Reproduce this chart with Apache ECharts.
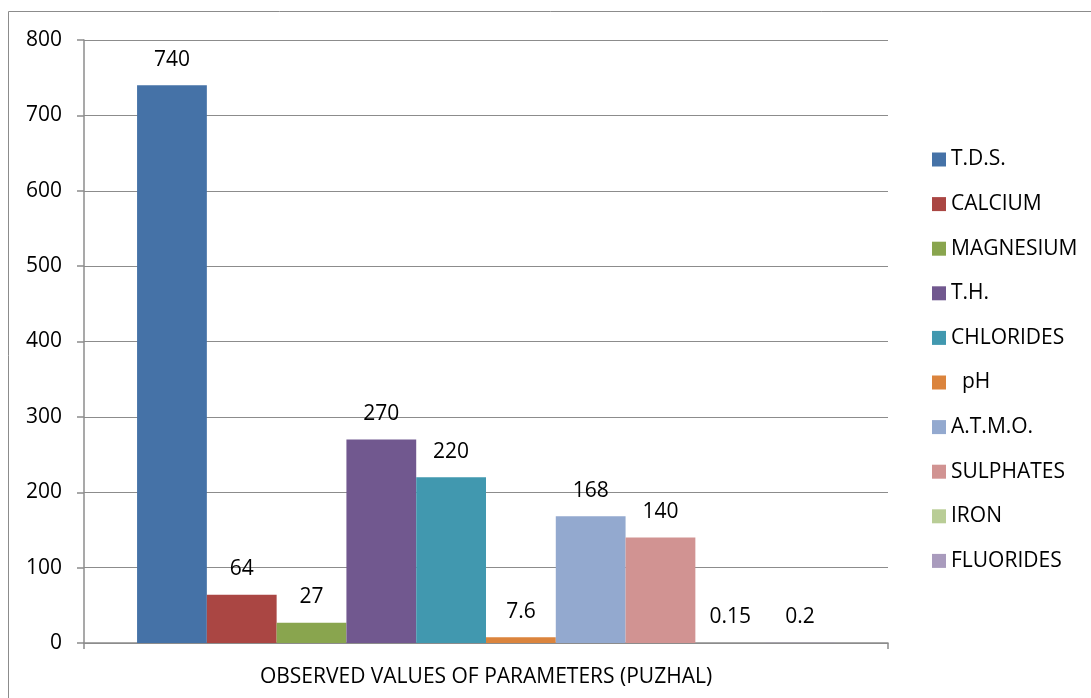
<!DOCTYPE html>
<html><head><meta charset="utf-8">
<script src="https://cdn.jsdelivr.net/npm/echarts@6/dist/echarts.min.js"></script>
<style>html,body{margin:0;padding:0;background:#fff}#c{width:1091px;height:698px}</style>
</head><body><div id="c"></div>
<script>
const seriesNames = ['T.D.S.', 'CALCIUM', 'MAGNESIUM', 'T.H.', 'CHLORIDES', '  pH', 'A.T.M.O.', 'SULPHATES', 'IRON', 'FLUORIDES'];
const seriesValues = [740, 64, 27, 270, 220, 7.6, 168, 140, 0.15, 0.2];
const seriesColors = ['#4572A7', '#AA4643', '#89A54E', '#71588F', '#4198AF', '#DB843D', '#93A9CF', '#D19392', '#B9CD96', '#A99BBD'];
const categories = [''];
const xAxisTitle = 'OBSERVED VALUES OF PARAMETERS (PUZHAL)';
const yTicks = { min: 0, max: 800, interval: 100 };

const FONT = 'Open Sans';
const FS = 21;
const chart = echarts.init(document.getElementById('c'));
chart.setOption({
  animation: false,
  textStyle: { fontFamily: FONT },
  graphic: [{
    type: 'rect', shape: { x: 8.5, y: 11.5, width: 1200, height: 800 },
    style: { fill: 'none', stroke: '#8c8c8c', lineWidth: 1 }, silent: true
  }],
  grid: { left: 84, right: 203, top: 40, bottom: 55, containLabel: false },
  legend: {
    orient: 'vertical', left: 927, top: 144, itemGap: 23.6,
    itemWidth: 14, itemHeight: 14, icon: 'rect',
    textStyle: { fontFamily: FONT, fontSize: FS, lineHeight: 21, color: '#000', padding: [0, 0, 0, 0] },
    data: seriesNames
  },
  xAxis: {
    type: 'category', data: categories,
    axisLine: { lineStyle: { color: '#8c8c8c', width: 1.5 } },
    axisTick: { show: true, length: 6, lineStyle: { color: '#8c8c8c', width: 1.5 } },
    axisLabel: { show: false },
    name: xAxisTitle, nameLocation: 'middle', nameGap: 24,
    nameTextStyle: { fontFamily: FONT, fontSize: FS, color: '#000' }
  },
  yAxis: {
    type: 'value', min: yTicks.min, max: yTicks.max, interval: yTicks.interval,
    axisLine: { show: true, lineStyle: { color: '#8c8c8c', width: 1.5 } },
    axisTick: { show: true, length: 7, lineStyle: { color: '#8c8c8c', width: 1.5 } },
    axisLabel: { fontFamily: FONT, fontSize: FS, color: '#000', margin: 22 },
    splitLine: { lineStyle: { color: '#8c8c8c', width: 1 } }
  },
  series: seriesNames.map((n, i) => ({
    name: n, type: 'bar', data: [seriesValues[i]],
    itemStyle: { color: seriesColors[i] },
    barGap: '0%', barCategoryGap: '13.2%',
    label: { show: true, position: 'top', distance: 15, fontFamily: FONT, fontSize: FS, color: '#000',
      formatter: p => String(seriesValues[p.seriesIndex]) }
  }))
});
</script></body></html>
